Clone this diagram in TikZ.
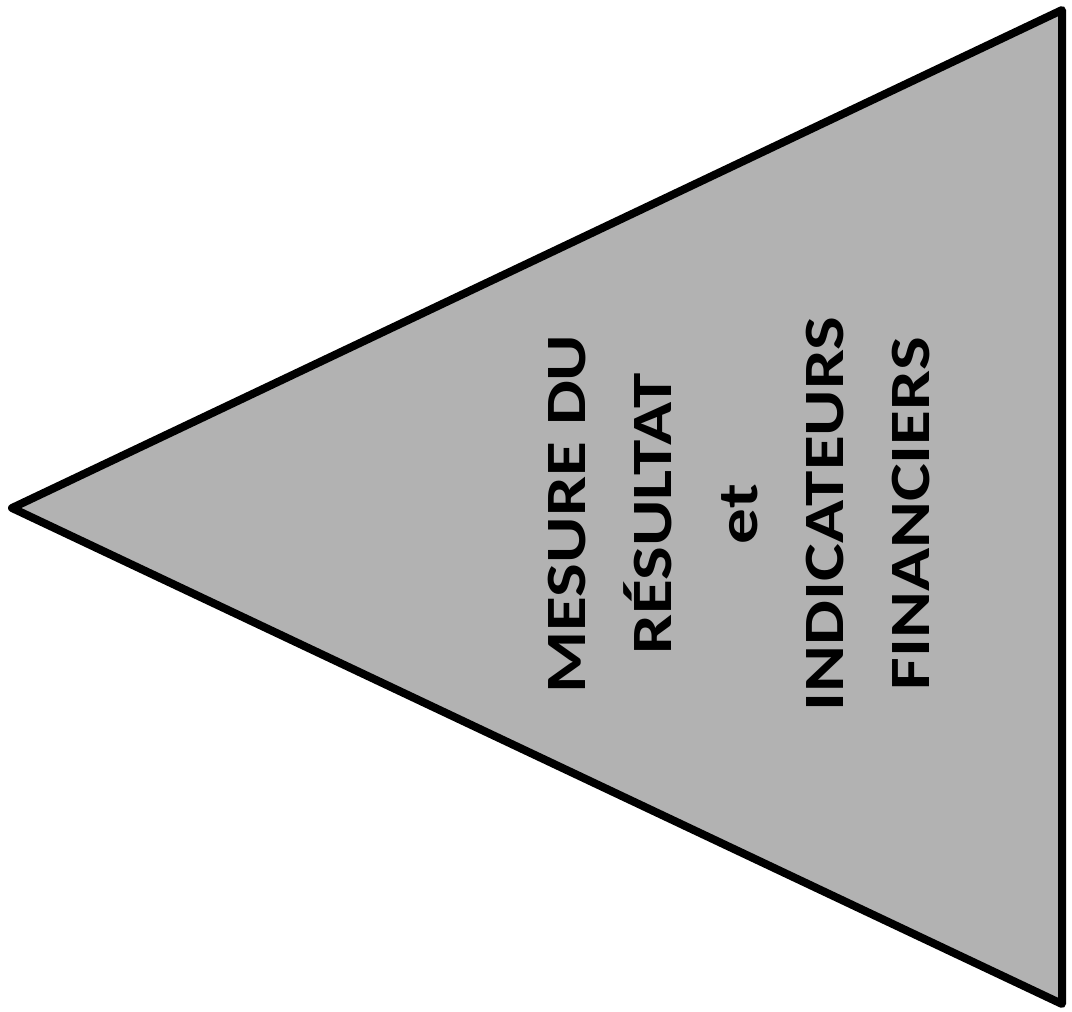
\documentclass[tikz,border=0pt]{standalone}
\usepackage{fontspec}
\setmainfont{Carlito}
\usepackage{tikz}
\usetikzlibrary{positioning}
\definecolor{tri_gray}{RGB}{178,178,178}

\begin{document}
\begin{tikzpicture}[x=1pt, y=-1pt, font=\bfseries\fontsize{57}{86}\selectfont]
        \useasboundingbox (0,0) rectangle (1072,1012);
        \coordinate (apex) at (12,508);
        \coordinate (top) at (1062,10);
        \coordinate (bot) at (1062,1004);
        \filldraw[fill=tri_gray, line width=8pt, line join=round] (apex) -- (top) -- (bot) -- cycle;
        \node[rotate=90, xscale=1.25, align=center] (label) at (739,514)
          {MESURE DU\\RÉSULTAT\\et\\INDICATEURS\\FINANCIERS};
      \end{tikzpicture}
\end{document}
